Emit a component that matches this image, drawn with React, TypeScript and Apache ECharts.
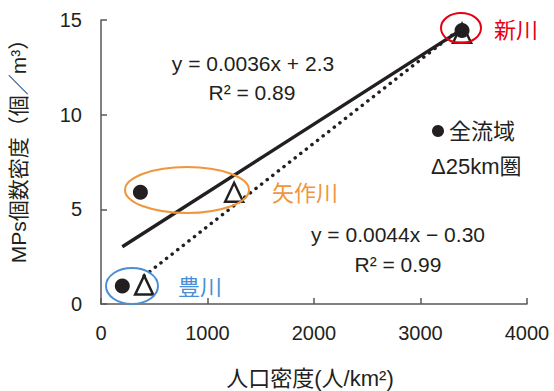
import React, { useEffect, useRef } from "react";
import * as echarts from "echarts";

const rivers = ["豊川", "矢作川", "新川"];
const wholeBasinX = [200, 370, 3390];
const wholeBasinY = [0.95, 5.9, 14.45];
const within25kmX = [405, 1250, 3390];
const within25kmY = [1.0, 5.9, 14.3];
const fitWhole = { slope: 0.0036, intercept: 2.3, r2: "0.89" };
const fit25km = { slope: 0.0044, intercept: -0.3, r2: "0.99" };
const xTicks = { min: 0, max: 4000, interval: 1000 };
const yTicks = { min: 0, max: 15, interval: 5 };
const xName = "人口密度(人/km²)";
const yName = "MPs個数密度（個／m³）";
const legendNames = ["全流域", "Δ25km圏"];

const FONT = '"Liberation Sans", "Noto Sans CJK JP", sans-serif';
const INK = "#231f20";

function trend(xs: number[], f: { slope: number; intercept: number }) {
  const lo = Math.min(...xs);
  const hi = Math.max(...xs);
  return [
    [lo, f.slope * lo + f.intercept],
    [hi, f.slope * hi + f.intercept],
  ];
}

export default function App() {
  const ref = useRef<HTMLDivElement>(null);
  useEffect(() => {
    if (!ref.current) return;
    const chart = echarts.init(ref.current, null, { renderer: "svg" });
    const txt = (x: number, y: number, text: string, size: number, color: string, align = "center", rotation = 0) => ({
      type: "text",
      x,
      y,
      rotation,
      z: 10,
      style: { text, fontSize: size, fontFamily: FONT, fill: color, align, verticalAlign: "middle" },
    });
    const ell = (cx: number, cy: number, rx: number, ry: number, color: string) => ({
      type: "ellipse",
      shape: { cx, cy, rx, ry },
      z: 10,
      style: { fill: "none", stroke: color, lineWidth: 2 },
    });
    const axisCommon = {
      axisLine: { show: true, lineStyle: { color: "#595757", width: 1.5 } },
      axisTick: { show: true, inside: true, length: 6, lineStyle: { color: "#595757", width: 1.5 } },
      splitLine: { show: false },
    };
    chart.setOption({
      animation: false,
      backgroundColor: "#fff",
      grid: { left: 101, right: 27, top: 20, bottom: 87 },
      xAxis: {
        type: "value",
        ...xTicks,
        ...axisCommon,
        axisLabel: { fontSize: 20, fontFamily: FONT, color: INK, margin: 19, formatter: (v: number) => String(v) },
      },
      yAxis: {
        type: "value",
        ...yTicks,
        ...axisCommon,
        axisLabel: { fontSize: 20, fontFamily: FONT, color: INK, margin: 19 },
      },
      series: [
        {
          type: "line",
          data: trend(wholeBasinX, fitWhole),
          symbol: "none",
          lineStyle: { color: INK, width: 3.5 },
          z: 2,
        },
        {
          type: "line",
          data: trend(within25kmX, fit25km),
          symbol: "none",
          lineStyle: { color: INK, width: 3.5, type: [0.1, 7], cap: "round" },
          z: 2,
        },
        {
          type: "scatter",
          name: "25km圏",
          data: within25kmX.map((x, i) => [x, within25kmY[i], rivers[i]]),
          symbol: "triangle",
          symbolSize: [18, 19],
          itemStyle: { color: "#fff", borderColor: INK, borderWidth: 2.5, opacity: 1 },
          z: 3,
        },
        {
          type: "scatter",
          name: "全流域",
          data: wholeBasinX.map((x, i) => [x, wholeBasinY[i], rivers[i]]),
          symbol: "circle",
          symbolSize: 15,
          itemStyle: { color: INK, opacity: 1 },
          z: 4,
        },
      ],
      graphic: [
        ell(187, 190, 62, 23, "#f0963c"),
        ell(132, 286, 26, 18, "#4a8fd6"),
        ell(461, 28, 20, 15, "#e60012"),
        txt(494, 30, rivers[2], 22, "#e60012", "left"),
        txt(272, 193, rivers[1], 22, "#f0963c", "left"),
        txt(178, 287, rivers[0], 22, "#4a8fd6", "left"),
        txt(253, 63, `y = ${fitWhole.slope}x + ${fitWhole.intercept}`, 21, INK),
        txt(252, 92, `R² = ${fitWhole.r2}`, 21, INK),
        txt(398, 234, `y = ${fit25km.slope}x − ${Math.abs(fit25km.intercept).toFixed(2)}`, 21, INK),
        txt(398, 264, `R² = ${fit25km.r2}`, 21, INK),
        { type: "circle", shape: { cx: 438, cy: 131, r: 6 }, z: 10, style: { fill: INK } },
        txt(449, 131, legendNames[0], 22, INK, "left"),
        txt(431, 166, legendNames[1], 22, INK, "left"),
        txt(310, 378, xName, 22, INK),
        txt(18, 146, yName, 21, INK, "center", Math.PI / 2),
      ],
    });
    return () => chart.dispose();
  }, []);
  return <div ref={ref} style={{ position: "fixed", left: 0, top: 0, width: 554, height: 391 }} />;
}
